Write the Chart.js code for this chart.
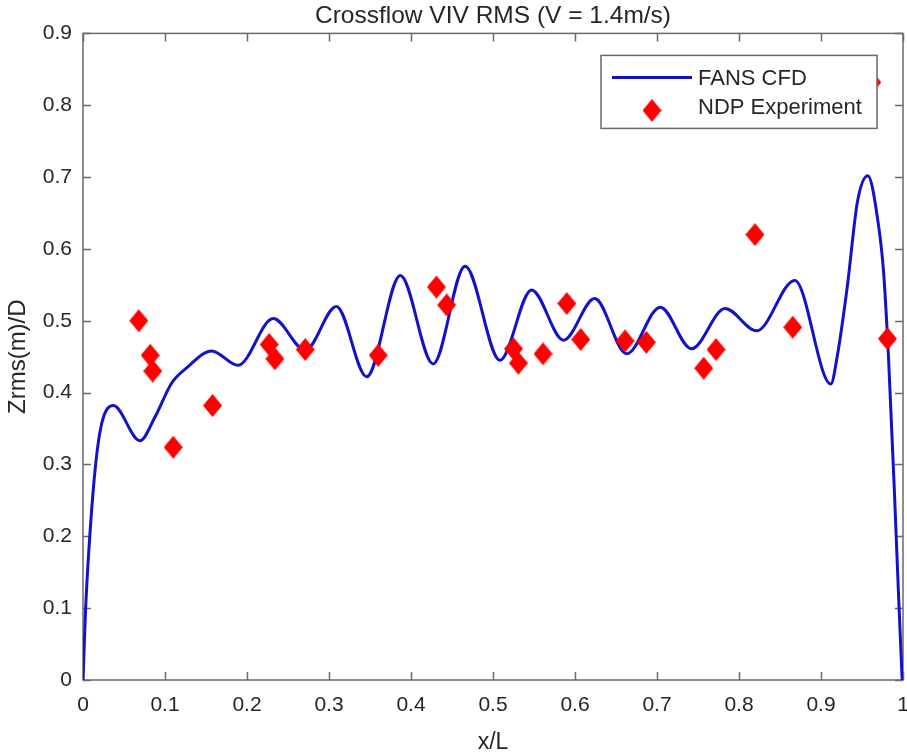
<!DOCTYPE html>
<html>
<head>
<meta charset="utf-8">
<script src="https://cdn.jsdelivr.net/npm/chart.js@4.4.1/dist/chart.umd.min.js"></script>
<style>
html,body{margin:0;padding:0;background:#ffffff;}
#wrap{width:907px;height:753px;}
</style>
</head>
<body>
<div id="wrap"><canvas id="c" width="907" height="753"></canvas></div>
<script>
// ---- data ----
const chartTitle = 'Crossflow VIV RMS (V = 1.4m/s)';
const xAxisLabel = 'x/L';
const yAxisLabel = 'Zrms(m)/D';
const seriesNames = ['FANS CFD', 'NDP Experiment'];
const xTickLabels = ['0','0.1','0.2','0.3','0.4','0.5','0.6','0.7','0.8','0.9','1'];
const yTickLabels = ['0','0.1','0.2','0.3','0.4','0.5','0.6','0.7','0.8','0.9'];

// FANS CFD curve
const cfdX = [0, 0.0033, 0.0085, 0.0155, 0.0228, 0.037, 0.0695, 0.0878, 0.108, 0.126, 0.157, 0.189, 0.232, 0.271, 0.309, 0.346, 0.387, 0.427, 0.466, 0.5085, 0.547, 0.586, 0.624, 0.663, 0.704, 0.742, 0.783, 0.8215, 0.868, 0.912, 0.920, 0.932, 0.9445, 0.957, 0.9705, 0.9765, 0.9825, 0.9895, 0.9945, 0.999];
const cfdY = [0, 0.102, 0.204, 0.301, 0.357, 0.382, 0.333, 0.366, 0.413, 0.434, 0.458, 0.438, 0.503, 0.459, 0.520, 0.422, 0.563, 0.440, 0.576, 0.445, 0.543, 0.473, 0.531, 0.454, 0.519, 0.461, 0.517, 0.486, 0.556, 0.412, 0.452, 0.547, 0.666, 0.702, 0.630, 0.565, 0.445, 0.2625, 0.120, 0];

// NDP Experiment points
const expX = [0.068, 0.082, 0.085, 0.110, 0.158, 0.227, 0.234, 0.271, 0.360, 0.431, 0.4435, 0.525, 0.531, 0.561, 0.590, 0.607, 0.661, 0.687, 0.757, 0.772, 0.8195, 0.8655, 0.962, 0.981];
const expY = [0.500, 0.452, 0.430, 0.324, 0.382, 0.467, 0.447, 0.460, 0.452, 0.547, 0.522, 0.461, 0.441, 0.454, 0.524, 0.474, 0.472, 0.470, 0.434, 0.460, 0.620, 0.491, 0.832, 0.475];

// ---- styles ----
const FONT = '"Liberation Sans", Arial, Helvetica, sans-serif';
const TEXT = '#262626';
const AXIS = '#6a6a6a';
const LINE = '#1212c8';
const MARK = '#ff0000';

function makeDiamond(w, h, color) {
  const c = document.createElement('canvas');
  c.width = w; c.height = h;
  const g = c.getContext('2d');
  g.fillStyle = color;
  g.beginPath();
  g.moveTo(w / 2, 0); g.lineTo(w, h / 2); g.lineTo(w / 2, h); g.lineTo(0, h / 2);
  g.closePath(); g.fill();
  return c;
}
const diamond = makeDiamond(19, 23, MARK);

const framePlugin = {
  id: 'frame',
  beforeDatasetsDraw(chart) {
    const {ctx, chartArea: a, scales: {x, y}} = chart;
    ctx.save();
    ctx.strokeStyle = AXIS;
    ctx.lineWidth = 1.5;
    ctx.beginPath();
    x.ticks.forEach(t => {
      const px = Math.round(x.getPixelForValue(t.value)) + 0.5;
      ctx.moveTo(px, a.bottom); ctx.lineTo(px, a.bottom - 8);
      ctx.moveTo(px, a.top); ctx.lineTo(px, a.top + 8);
    });
    y.ticks.forEach(t => {
      const py = Math.round(y.getPixelForValue(t.value)) + 0.5;
      ctx.moveTo(a.left, py); ctx.lineTo(a.left + 8, py);
      ctx.moveTo(a.right, py); ctx.lineTo(a.right - 8, py);
    });
    ctx.stroke();
    ctx.strokeRect(a.left, a.top, a.right - a.left, a.bottom - a.top);
    ctx.restore();
  },
  afterDatasetsDraw(chart) {
    const {ctx, chartArea: a} = chart;
    const lw = 276, lh = 73;
    const lx = a.right - 26 - lw, ly = a.top + 22;
    ctx.save();
    ctx.fillStyle = '#ffffff';
    ctx.fillRect(lx, ly, lw, lh);
    ctx.strokeStyle = AXIS;
    ctx.lineWidth = 1.5;
    ctx.strokeRect(lx, ly, lw, lh);
    ctx.strokeStyle = LINE;
    ctx.lineWidth = 3;
    ctx.beginPath();
    ctx.moveTo(lx + 11, ly + 22); ctx.lineTo(lx + 91, ly + 22);
    ctx.stroke();
    ctx.drawImage(diamond, lx + 51 - diamond.width / 2, ly + 55 - diamond.height / 2);
    ctx.fillStyle = TEXT;
    ctx.font = '22px ' + FONT;
    ctx.textBaseline = 'middle';
    ctx.textAlign = 'left';
    ctx.fillText(seriesNames[0], lx + 97, ly + 24);
    ctx.fillText(seriesNames[1], lx + 97, ly + 53);
    ctx.restore();
  }
};

new Chart(document.getElementById('c'), {
  type: 'line',
  data: {
    datasets: [
      {
        label: seriesNames[1],
        data: expX.map((v, i) => ({x: v, y: expY[i]})),
        showLine: false,
        pointStyle: diamond,
        pointRadius: 9,
        pointHoverRadius: 9,
        backgroundColor: MARK,
        borderColor: MARK,
        order: 0
      },
      {
        label: seriesNames[0],
        data: cfdX.map((v, i) => ({x: v, y: cfdY[i]})),
        borderColor: LINE,
        borderWidth: 3,
        pointRadius: 0,
        pointHoverRadius: 0,
        cubicInterpolationMode: 'monotone',
        fill: false,
        order: 1
      }
    ]
  },
  options: {
    responsive: false,
    animation: false,
    devicePixelRatio: 1,
    events: [],
    layout: {autoPadding: false, padding: {left: 0, right: 4, top: 0, bottom: 0}},
    plugins: {
      legend: {display: false},
      tooltip: {enabled: false},
      title: {
        display: true,
        fullSize: false,
        text: chartTitle,
        color: TEXT,
        font: {family: FONT, size: 24.5, weight: 'normal'},
        padding: {top: 1.5, bottom: 2.5}
      }
    },
    scales: {
      x: {
        type: 'linear',
        min: 0, max: 1,
        ticks: {
          stepSize: 0.1,
          autoSkip: false,
          maxRotation: 0,
          padding: 13,
          color: TEXT,
          font: {family: FONT, size: 21},
          callback: (v, i) => xTickLabels[i]
        },
        grid: {display: false, drawTicks: false},
        border: {display: false},
        title: {
          display: true,
          text: xAxisLabel,
          color: TEXT,
          font: {family: FONT, size: 23},
          padding: {top: 0, bottom: -3}
        },
        afterFit(s) { s.height = 73; s.paddingLeft = 0; s.paddingRight = 0; }
      },
      y: {
        type: 'linear',
        min: 0, max: 0.9,
        ticks: {
          stepSize: 0.1,
          autoSkip: false,
          padding: 11,
          color: TEXT,
          font: {family: FONT, size: 21},
          callback: (v, i) => yTickLabels[i]
        },
        grid: {display: false, drawTicks: false},
        border: {display: false},
        title: {
          display: true,
          text: yAxisLabel,
          color: TEXT,
          font: {family: FONT, size: 24},
          padding: {top: 4, bottom: 0}
        },
        afterFit(s) { s.width = 83; }
      }
    }
  },
  plugins: [framePlugin]
});
</script>
</body>
</html>
